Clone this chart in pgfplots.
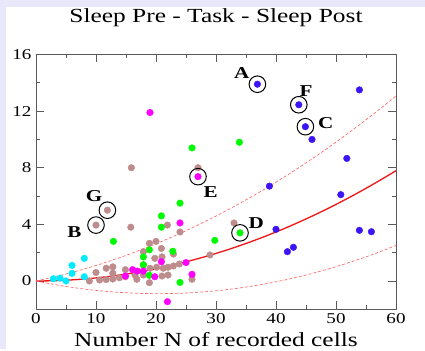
\documentclass[border=0pt]{standalone}
\usepackage{pgfplots}
\pgfplotsset{compat=1.18}
\usepackage{fontspec}
\setmainfont{Liberation Serif}[FakeStretch=1.27]
\definecolor{lav}{RGB}{232,232,250}
\definecolor{cyanpt}{RGB}{0,235,255}
\definecolor{brownpt}{RGB}{190,140,140}
\definecolor{greenpt}{RGB}{0,250,0}
\definecolor{magpt}{RGB}{255,0,255}
\definecolor{bluept}{RGB}{60,20,245}
\definecolor{fitred}{RGB}{240,20,20}
\definecolor{dashred}{RGB}{255,110,110}
\definecolor{axgray}{RGB}{90,90,90}
\begin{document}
\begin{tikzpicture}[x=1pt,y=1pt]
\fill[lav] (0,0) rectangle (425,349);
\fill[white] (6,0) rectangle (425,342);
\begin{axis}[
  at={(36pt,39.7pt)}, anchor=south west,
  width=360pt, height=254.8pt, scale only axis,
  xmin=0, xmax=60, ymin=-2, ymax=16,
  xtick={0,10,...,60}, ytick={0,4,8,12,16},
  minor x tick num=1, minor y tick num=1,
  major tick length=8pt, minor tick length=4pt,
  tick align=inside,
  axis line style={axgray, line width=0.8pt},
  every tick/.style={axgray, line width=0.7pt},
  /pgf/number format/assume math mode=true,
  tick label style={font=\fontsize{15}{17}\selectfont},
  xticklabel style={anchor=base, yshift=-14pt},
  yticklabel style={anchor=east, xshift=-1pt},
  title={Sleep Pre - Task - Sleep Post},
  title style={font=\fontsize{20}{24}\selectfont, at={(0.5,1)}, anchor=base, yshift=26.2pt},
  xlabel={Number N of recorded cells},
  xlabel style={font=\fontsize{20}{24}\selectfont, at={(0.5,0)}, anchor=base, yshift=-37.2pt},
  clip=false,
]
% fitted mean curve
\addplot[fitred, line width=1.3pt, smooth] coordinates {
(0,0)(2.5,0.0135)(5,0.0541)(7.5,0.1217)(10,0.2164)(12.5,0.3381)(15,0.4869)(17.5,0.6627)(20,0.8656)(22.5,1.0955)(25,1.3525)(27.5,1.6365)(30,1.9476)(32.5,2.2857)(35,2.6509)(37.5,3.0431)(40,3.4624)(42.5,3.9088)(45,4.3821)(47.5,4.8826)(50,5.41)(52.5,5.9645)(55,6.5461)(57.5,7.1547)(60,7.7904)};
% upper bound
\addplot[dashred, line width=0.7pt, dash pattern=on 3pt off 2pt, smooth] coordinates {
(0,0)(2.5,0.2335)(5,0.494)(7.5,0.782)(10,1.096)(12.5,1.438)(15,1.807)(17.5,2.203)(20,2.626)(22.5,3.076)(25,3.553)(27.5,4.057)(30,4.588)(32.5,5.146)(35,5.731)(37.5,6.343)(40,6.982)(42.5,7.649)(45,8.342)(47.5,9.063)(50,9.81)(52.5,10.585)(55,11.386)(57.5,12.215)(60,13.07)};
% lower bound
\addplot[dashred, line width=0.7pt, dash pattern=on 3pt off 2pt, smooth] coordinates {
(0,0)(2.5,-0.2065)(5,-0.386)(7.5,-0.538)(10,-0.664)(12.5,-0.762)(15,-0.833)(17.5,-0.877)(20,-0.894)(22.5,-0.885)(25,-0.848)(27.5,-0.784)(30,-0.692)(32.5,-0.574)(35,-0.429)(37.5,-0.257)(40,-0.058)(42.5,0.169)(45,0.422)(47.5,0.703)(50,1.01)(52.5,1.345)(55,1.706)(57.5,2.095)(60,2.51)};
% brown
\addplot[only marks, mark=*, mark size=3.3pt, draw=none, fill=brownpt, mark options={draw=brownpt, fill=brownpt}] coordinates {
(8.9,0.0)(10,0.6)(10.6,0.07)(11.7,0.1)(11.7,0.9)(12.8,1.0)(12.8,0.55)(12.8,0.14)(13.9,0.23)(14.9,0.8)(14.9,0.3)
(10,3.95)(11.9,5.0)(15.8,3.8)
(16.5,0.42)(16.8,0.12)(17.9,0.42)(17.9,1.13)(17.9,2.07)(18.9,2.66)(18.9,-0.12)(19,0.9)(19.8,1.6)(20,2.8)(20.1,0.97)(20.9,2.3)(21,0.35)(21.2,0.9)(22,0.97)(22,0.42)(22.9,1.9)(22.9,1.06)(21.9,3.95)(24,3.46)(26,0.12)(29,1.84)(33,4.1)(21,1.7)(23.9,1.2)
(15.9,8.0)(27,8.0)};
% cyan
\addplot[only marks, mark=*, mark size=3.3pt, mark options={draw=cyanpt, fill=cyanpt}] coordinates {
(2.9,0.16)(4.0,0.2)(5,0)(6,0.54)(6,1.1)(8.05,1.6)(8.05,0.3)};
% green
\addplot[only marks, mark=*, mark size=3.3pt, mark options={draw=greenpt, fill=greenpt}] coordinates {
(12.9,2.8)(17.9,1.7)(18.9,2.2)(17.9,1.15)(18.9,0.4)(20.9,3.8)(20.9,4.6)(22.8,2.1)(24,5.5)(24,-0.1)(26,9.4)(29.8,2.87)(33.9,9.8)(34,3.4)};
% magenta
\addplot[only marks, mark=*, mark size=3.3pt, mark options={draw=magpt, fill=magpt}] coordinates {
(14.9,0.35)(16.1,0.8)(16.9,0.7)(17.9,0.7)(19.8,0.3)(20.9,1.36)(25,1.3)(26,0.47)(24,4.1)(21.9,-1.46)(19,11.9)(27,7.37)};
% blue
\addplot[only marks, mark=*, mark size=3.3pt, mark options={draw=bluept, fill=bluept}] coordinates {
(36.9,13.9)(43.8,12.45)(44.9,10.9)(46,10.0)(53.9,13.5)(51.8,8.66)(38.9,6.7)(50.8,6.1)(40,3.65)(53.9,3.58)(55.9,3.48)(42.9,2.38)(41.9,2.07)};
% circled examples
\addplot[only marks, mark=o, mark size=8.3pt, mark options={draw=black, line width=1pt}] coordinates {
(36.9,13.9)(43.8,12.45)(44.9,10.9)(27,7.37)(34,3.4)(11.9,5.0)(10,3.95)};
\begin{scope}[every node/.style={font=\fontsize{16.6}{18}\selectfont\bfseries}]
\node at (axis cs:34.3,14.7) {A};
\node at (axis cs:45,13.44) {F};
\node at (axis cs:48.3,11.18) {C};
\node at (axis cs:29.1,6.3) {E};
\node at (axis cs:36.7,4.07) {D};
\node at (axis cs:9.67,6.0) {G};
\node at (axis cs:6.4,3.44) {B};
\end{scope}
\end{axis}
\end{tikzpicture}
\end{document}
